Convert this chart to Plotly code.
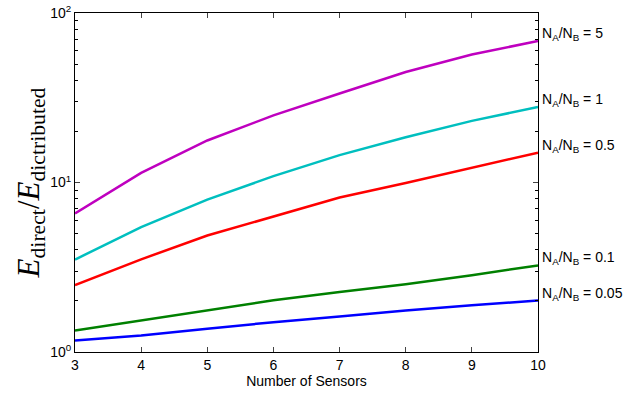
import math
import plotly.graph_objects as go

sensors = [3, 4, 5, 6, 7, 8, 9, 10]
ratio_5 = [6.56, 11.4, 17.7, 24.9, 33.5, 44.9, 56.9, 68.4]
ratio_1 = [3.51, 5.46, 7.93, 10.9, 14.5, 18.5, 23.1, 27.9]
ratio_05 = [2.48, 3.52, 4.87, 6.31, 8.15, 9.93, 12.2, 15.0]
ratio_01 = [1.34, 1.54, 1.76, 2.02, 2.26, 2.51, 2.84, 3.24]
ratio_005 = [1.17, 1.25, 1.37, 1.50, 1.62, 1.76, 1.89, 2.01]

series = [
    ("N<sub>A</sub>/N<sub>B</sub> = 5", ratio_5, "#BF00BF"),
    ("N<sub>A</sub>/N<sub>B</sub> = 1", ratio_1, "#00BFBF"),
    ("N<sub>A</sub>/N<sub>B</sub> = 0.5", ratio_05, "#FF0000"),
    ("N<sub>A</sub>/N<sub>B</sub> = 0.1", ratio_01, "#008000"),
    ("N<sub>A</sub>/N<sub>B</sub> = 0.05", ratio_005, "#0000FF"),
]

y_tickvals = [1, 10, 100]
y_ticktext = ["10<sup>0</sup>", "10<sup>1</sup>", "10<sup>2</sup>"]
y_minor = [2, 3, 4, 5, 6, 7, 8, 9, 20, 30, 40, 50, 60, 70, 80, 90]

fig = go.Figure()
for name, vals, color in series:
    fig.add_trace(go.Scatter(x=sensors, y=vals, mode="lines", name=name,
                             line=dict(color=color, width=2.5), showlegend=False))
    fig.add_annotation(x=sensors[-1], y=math.log10(vals[-1]), yref="y", text=name,
                       showarrow=False, xanchor="left", yanchor="middle",
                       xshift=2, yshift=7,
                       font=dict(family="Liberation Sans, Arial", size=14, color="black"))

axis_font = dict(family="Liberation Sans, Arial", size=14, color="black")
fig.update_layout(
    width=641, height=394,
    margin=dict(l=75, r=103, t=13, b=42, autoexpand=False),
    paper_bgcolor="white", plot_bgcolor="white",
    xaxis=dict(range=[3, 10], tickvals=sensors, ticks="inside", ticklen=5,
               showline=True, linecolor="black", linewidth=1, mirror="allticks",
               showgrid=False, zeroline=False, tickfont=axis_font,
               title=dict(text="Number of Sensors", font=dict(family="Liberation Sans, Arial", size=14, color="black"), standoff=0)),
    yaxis=dict(type="log", range=[0, 2], tickvals=y_tickvals, ticktext=y_ticktext,
               ticks="inside", ticklen=5, showline=True, linecolor="black", linewidth=1,
               mirror="allticks", showgrid=False, zeroline=False, tickfont=axis_font,
               minor=dict(tickvals=y_minor, ticks="inside", ticklen=3, tickcolor="black", showgrid=False),
               title=dict(text="<i>E</i><sub>direct</sub>/<i>E</i><sub>dictributed</sub>",
                          font=dict(family="Liberation Serif, Times New Roman", size=31, color="black"),
                          standoff=0)),
)

fig.write_html("out.html", config={"displayModeBar": False},
               post_script="document.body.style.margin='0';")
